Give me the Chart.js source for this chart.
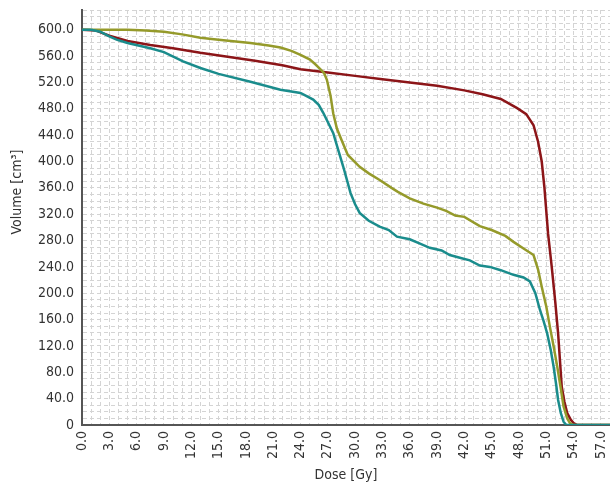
<!DOCTYPE html>
<html>
<head>
<meta charset="utf-8">
<script src="https://cdn.jsdelivr.net/npm/chart.js@4/dist/chart.umd.min.js"></script>
<style>
  body { margin: 0; background: #fff; }
  canvas { display: block; }
</style>
</head>
<body>
<canvas id="dvh" width="610" height="484"></canvas>
<script>
// dose [Gy] / volume [cm3]
const tealDose = [0, 1, 2, 3, 3.8, 5, 7.5, 9, 11.1, 13, 15, 18.5, 21.8, 24, 25.4, 26, 26.5, 27, 27.6, 28.2, 28.7, 29.1, 29.5, 30, 30.5, 31.5, 32.7, 33.7, 34.6, 36, 37, 38.2, 39.5, 40.4, 41.5, 42.6, 43.7, 44.8, 46, 47.4, 48.5, 49.2, 49.8, 50.3, 50.7, 51.1, 51.5, 51.8, 52.1, 52.3, 52.6, 52.9, 53.2, 58];
const tealVolume = [600, 600, 597, 590, 585, 580, 572, 566, 552, 542, 533, 521, 509, 504, 494, 486, 474, 460, 443, 415, 392, 372, 352, 335, 322, 310, 301, 296, 286, 282, 276, 269, 265, 258, 254, 250, 242, 240, 235, 228, 224, 218, 200, 175, 158, 139, 113, 89, 60, 38, 18, 5, 0, 0];

const oliveDose = [0, 2, 5, 7, 9, 11, 13, 15, 18.5, 20.5, 21.8, 23, 24, 25, 25.6, 26.2, 26.6, 26.9, 27.3, 27.6, 28, 28.5, 29.2, 30.5, 31.5, 32.7, 34, 34.7, 36, 37.5, 39, 40, 41, 42, 43.7, 45, 46.5, 47.4, 48.5, 49.6, 50.1, 50.5, 51, 51.4, 51.8, 52.2, 52.6, 52.9, 53.3, 53.6, 54, 58];
const oliveVolume = [600, 600, 600, 599, 597, 593, 588, 585, 580, 576, 573, 568, 562, 555, 548, 540, 534, 524, 500, 473, 450, 433, 410, 392, 382, 372, 360, 354, 344, 336, 330, 325, 318, 316, 302, 296, 287, 278, 268, 258, 236, 210, 180, 149, 120, 89, 55, 28, 10, 3, 0, 0];

const redDose = [0, 1.5, 3, 5, 7.5, 10, 13, 16, 19, 22, 24, 27, 30, 33, 36, 39, 42, 44, 46, 47.8, 48.8, 49.6, 50.1, 50.5, 50.8, 50.9, 51.2, 51.6, 52, 52.3, 52.7, 53, 53.3, 53.7, 54, 54.4, 58];
const redVolume = [600, 599, 591, 583, 577, 572, 565, 559, 553, 546, 540, 535, 530, 525, 520, 515, 508, 502, 495, 481, 472, 455, 430, 400, 360, 342, 290, 240, 185, 139, 58, 35, 18, 8, 3, 0, 0];

const xMax = 58;
const yMax = 630;

function pts(xs, ys) {
  return xs.map((x, i) => ({ x: x, y: ys[i] }));
}

const fam = "'Liberation Sans Narrow', 'DejaVu Sans Condensed', 'Liberation Sans', sans-serif";
const tickFont = { family: fam, size: 14 };
const titleFont = { family: fam, size: 14 };

// y axis title, placed where the reference has it
const volumeTitle = {
  id: 'volumeTitle',
  afterDraw(chart) {
    const ctx = chart.ctx;
    ctx.save();
    ctx.translate(17, 192);
    ctx.rotate(-Math.PI / 2);
    ctx.font = '14px ' + fam;
    ctx.fillStyle = '#333';
    ctx.textAlign = 'center';
    ctx.textBaseline = 'middle';
    ctx.fillText('Volume [cm³]', 0, 0);
    ctx.restore();
  }
};

new Chart(document.getElementById('dvh').getContext('2d'), {
  type: 'line',
  data: {
    datasets: [
      { data: pts(tealDose, tealVolume), borderColor: '#1a8c8c' },
      { data: pts(oliveDose, oliveVolume), borderColor: '#959a2a' },
      { data: pts(redDose, redVolume), borderColor: '#8c1518' }
    ]
  },
  options: {
    responsive: false,
    animation: false,
    layout: { padding: { top: 10, right: 0, left: 0, bottom: 0 } },
    elements: {
      point: { radius: 0 },
      line: { borderWidth: 2.5, tension: 0 }
    },
    plugins: {
      legend: { display: false },
      tooltip: { enabled: false }
    },
    scales: {
      x: {
        type: 'linear',
        min: 0,
        max: xMax,
        afterFit: function (s) { s.height = 59; s.paddingLeft = 0; s.paddingRight = 0; },
        grid: { color: '#d4d4d4', drawTicks: false },
        border: { display: true, color: '#555', width: 2, dash: [4, 3] },
        ticks: {
          stepSize: 1,
          autoSkip: false,
          maxRotation: 90,
          minRotation: 90,
          padding: 6,
          color: '#333',
          font: tickFont,
          callback: function (v) { return v % 3 === 0 ? v.toFixed(1) : ''; }
        },
        title: { display: true, text: 'Dose [Gy]', color: '#333', font: titleFont, padding: { top: 0, bottom: 0 } }
      },
      y: {
        min: 0,
        max: yMax,
        afterFit: function (s) { s.width = 82; s.paddingTop = 0; s.paddingBottom = 0; },
        grid: { color: '#d4d4d4', drawTicks: false },
        border: { display: true, color: '#555', width: 2, dash: [4, 3] },
        ticks: {
          stepSize: 10,
          autoSkip: false,
          padding: 8,
          color: '#333',
          font: tickFont,
          callback: function (v) {
            if (v === 0) return '0';
            return v % 40 === 0 && v <= 600 ? v.toFixed(1) : '';
          }
        }
      }
    }
  },
  plugins: [volumeTitle]
});
</script>
</body>
</html>
